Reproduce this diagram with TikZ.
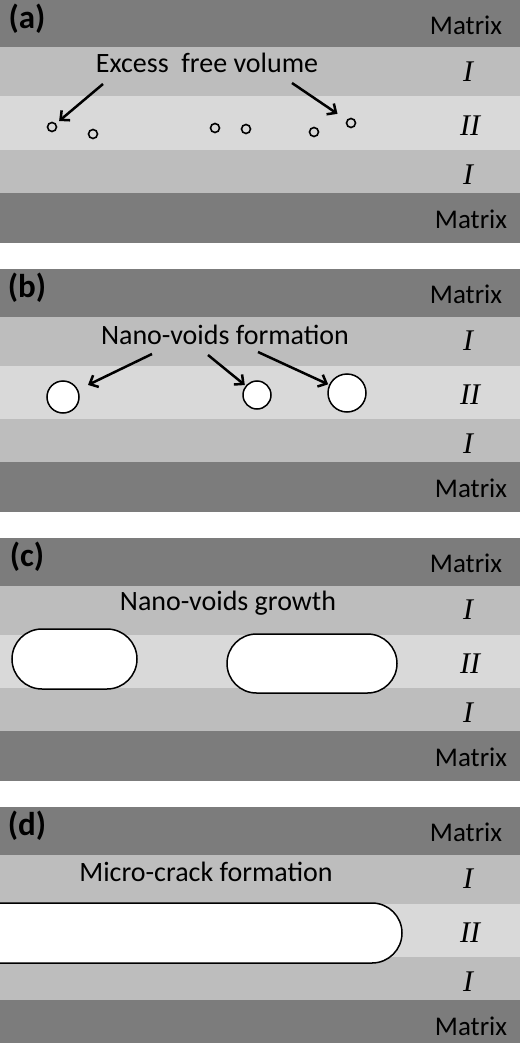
\documentclass[tikz,border=0pt]{standalone}
\usepackage{fontspec}
\newfontfamily\calfont{Carlito}
\newfontfamily\romfont{Liberation Serif}
\usetikzlibrary{arrows.meta,shapes.misc}
\definecolor{matrixc}{HTML}{7C7C7C}
\definecolor{bandI}{HTML}{BDBDBD}
\definecolor{bandII}{HTML}{D9D9D9}
\newcommand\layerpanel[2]{%
  \begin{scope}[shift={(0,#1)}]
    \fill[matrixc] (0,0) rectangle (520,47.5);
    \fill[bandI] (0,47.5) rectangle (520,96.5);
    \fill[bandII] (0,96.5) rectangle (520,150);
    \fill[bandI] (0,150) rectangle (520,193);
    \fill[matrixc] (0,193) rectangle (520,243);
    \node[panlbl] (lab#2) at (27,19) {(#2)};
    \node[mtx] (mt#2) at (466,25) {Matrix};
    \node[rom] (ia#2) at (468,72) {I};
    \node[rom] (ii#2) at (470,126) {II};
    \node[rom] (ib#2) at (468,175) {I};
    \node[mtx] (mb#2) at (471,219) {Matrix};
  \end{scope}}
\begin{document}
\begin{tikzpicture}[x=1pt,y=-1pt,
  mtx/.style={font=\calfont\fontsize{27}{30}\selectfont, inner sep=0pt},
  panlbl/.style={font=\calfont\bfseries\fontsize{33}{36}\selectfont, inner sep=0pt},
  rom/.style={font=\romfont\itshape\fontsize{30}{32}\selectfont, inner sep=0pt},
  caption/.style={font=\calfont\fontsize{28}{31}\selectfont, inner sep=0pt},
  smallvoid/.style={circle, draw=black, line width=1.6pt, minimum size=9pt, inner sep=0pt},
  void/.style={circle, draw=black, fill=white, line width=1.5pt, inner sep=0pt},
  stadium/.style={rounded rectangle, draw=black, fill=white, line width=1.5pt, inner sep=0pt},
  arr/.style={line width=2.5pt, -{Straight Barb[length=7pt,width=13pt]}}
]
\useasboundingbox (0,0) rectangle (520,1043);
\clip (0,0) rectangle (520,1043);
\fill[white] (0,0) rectangle (520,1043);

% ---------- panel (a)
\layerpanel{0}{a}
\node[caption] (capa) at (207,63) {Excess\ \ free volume};
\node[smallvoid] (a1) at (52,127) {};
\node[smallvoid] (a2) at (93,134) {};
\node[smallvoid] (a3) at (215,128) {};
\node[smallvoid] (a4) at (246,129) {};
\node[smallvoid] (a5) at (314,132) {};
\node[smallvoid] (a6) at (351,123) {};
\coordinate (sa1) at (103,84);
\coordinate (sa2) at (292,83);
\draw[arr, shorten >=4pt] (sa1) -- (a1);
\draw[arr, shorten >=11pt] (sa2) -- (a6);

% ---------- panel (b)
\layerpanel{269}{b}
\node[caption] (capb) at (225,335) {Nano-voids formation};
\node[void, minimum size=32pt] (b1) at (63,397) {};
\node[void, minimum size=28pt] (b2) at (257,395) {};
\node[void, minimum size=38pt] (b3) at (347,393) {};
\coordinate (sb1) at (152,354);
\coordinate (sb2) at (208,355);
\coordinate (sb3) at (258,352);
\draw[arr, shorten >=11pt] (sb1) -- (b1);
\draw[arr, shorten >=1pt] (sb2) -- (b2);
\draw[arr, shorten >=1pt] (sb3) -- (b3);

% ---------- panel (c)
\layerpanel{538}{c}
\node[caption] (capc) at (228,603) {Nano-voids growth};
\node[stadium, minimum width=125pt, minimum height=60pt] (c1) at (74.5,659) {};
\node[stadium, minimum width=170pt, minimum height=59pt] (c2) at (312,663.5) {};

% ---------- panel (d)
\layerpanel{807}{d}
\node[caption] (capd) at (206,872) {Micro-crack formation};
\node[stadium, rounded rectangle west arc=none, minimum width=460pt, minimum height=60pt] (d1) at (172,933) {};
\end{tikzpicture}
\end{document}
